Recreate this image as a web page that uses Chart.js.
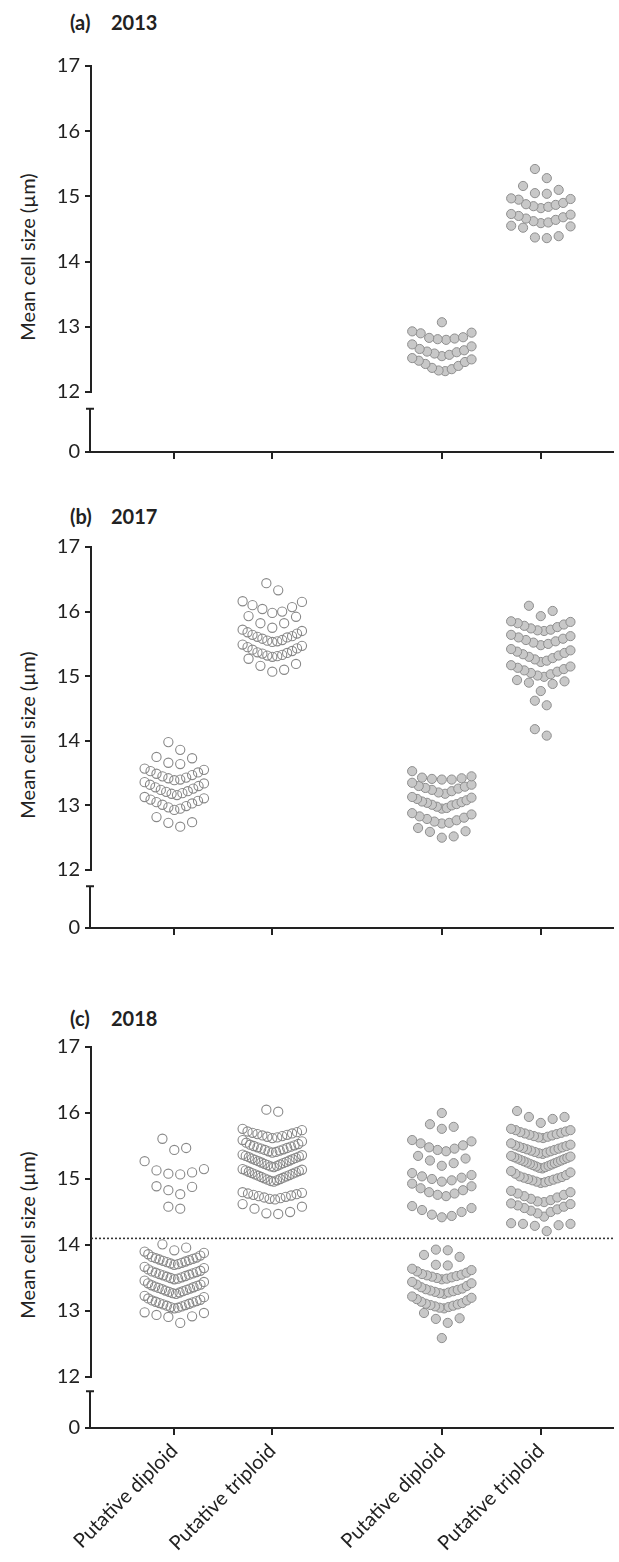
<!DOCTYPE html>
<html>
<head>
<meta charset="utf-8">
<script src="https://cdn.jsdelivr.net/npm/chart.js@4.4.1/dist/chart.umd.min.js"></script>
<style>
  html, body { margin: 0; padding: 0; background: #fff; }
  body { width: 619px; height: 1562px; position: relative; overflow: hidden; font-family: Lato, sans-serif; color: #222; }
  .panel { position: absolute; left: 0; width: 619px; }
  .ptitle { position: absolute; font-weight: bold; font-size: 20px; line-height: 24px; white-space: nowrap; }
  .ytitle { position: absolute; left: 27px; font-size: 20px; white-space: nowrap; transform: translate(-50%, -50%) rotate(-90deg); }
</style>
</head>
<body>

<div class="ptitle" style="left:70px; top:10px;">(a)</div>
<div class="ptitle" style="left:111px; top:10px;">2013</div>
<div class="ytitle" style="top:257px;">Mean cell size (µm)</div>
<div class="panel" style="top:40px; height:430px;"><canvas id="panelA" width="619" height="430"></canvas></div>

<div class="ptitle" style="left:70px; top:504px;">(b)</div>
<div class="ptitle" style="left:111px; top:504px;">2017</div>
<div class="ytitle" style="top:735px;">Mean cell size (µm)</div>
<div class="panel" style="top:520px; height:430px;"><canvas id="panelB" width="619" height="430"></canvas></div>

<div class="ptitle" style="left:70px; top:1006px;">(c)</div>
<div class="ptitle" style="left:111px; top:1006px;">2018</div>
<div class="ytitle" style="top:1235px;">Mean cell size (µm)</div>
<div class="panel" style="top:1020px; height:542px;"><canvas id="panelC" width="619" height="542"></canvas></div>

<script>
// categories and axis ticks
const groupLabels = ['Putative diploid', 'Putative triploid', 'Putative diploid', 'Putative triploid'];
const yTicks = [12, 13, 14, 15, 16, 17];
const yLowTicks = [0];
const threshold2018 = 14.1;

// 2013 (filled only)
const filledDiploid2013 = [12.32, 12.33, 12.35, 12.37, 12.40, 12.43, 12.46, 12.48, 12.50, 12.52,
  12.55, 12.57, 12.59, 12.61, 12.62, 12.64, 12.66, 12.70, 12.73,
  12.80, 12.81, 12.82, 12.83, 12.84, 12.90, 12.91, 12.93, 13.07];
const filledTriploid2013 = [14.36, 14.37, 14.39, 14.52, 14.54, 14.55,
  14.59, 14.60, 14.62, 14.64, 14.66, 14.68, 14.70, 14.72, 14.73,
  14.82, 14.84, 14.85, 14.87, 14.88, 14.90, 14.95, 14.96, 14.97,
  15.04, 15.05, 15.10, 15.16, 15.28, 15.42];

// 2017
const openDiploid2017 = [12.67, 12.73, 12.74, 12.82,
  12.93, 12.95, 12.97, 12.99, 13.01, 13.03, 13.05, 13.07, 13.09, 13.11, 13.13,
  13.16, 13.18, 13.19, 13.21, 13.22, 13.24, 13.26, 13.28, 13.30, 13.32, 13.34, 13.36,
  13.39, 13.40, 13.42, 13.43, 13.45, 13.47, 13.49, 13.51, 13.53, 13.55, 13.57,
  13.64, 13.66, 13.73, 13.75, 13.86, 13.98];
const openTriploid2017 = [15.07, 15.10, 15.16, 15.19, 15.27,
  15.30, 15.31, 15.32, 15.33, 15.35, 15.36, 15.37, 15.39, 15.41, 15.43, 15.45, 15.47, 15.49,
  15.53, 15.54, 15.55, 15.56, 15.58, 15.60, 15.61, 15.62, 15.64, 15.66, 15.68, 15.70, 15.72,
  15.75, 15.82, 15.82, 15.92, 15.93,
  15.98, 16.00, 16.04, 16.07, 16.10, 16.15, 16.16, 16.33, 16.44];
const filledDiploid2017 = [12.50, 12.52, 12.59, 12.60, 12.65,
  12.72, 12.73, 12.75, 12.77, 12.79, 12.81, 12.83, 12.86, 12.88,
  12.95, 12.96, 12.98, 13.00, 13.01, 13.02, 13.04, 13.05, 13.06, 13.08, 13.10, 13.12, 13.13,
  13.18, 13.20, 13.22, 13.24, 13.26, 13.27, 13.29, 13.30, 13.32, 13.35,
  13.40, 13.40, 13.41, 13.42, 13.43, 13.45, 13.53];
const filledTriploid2017 = [14.08, 14.18, 14.55, 14.62,
  14.77, 14.88, 14.90, 14.92, 14.94,
  14.99, 15.01, 15.03, 15.05, 15.07, 15.09, 15.11, 15.13, 15.15, 15.17,
  15.22, 15.24, 15.26, 15.28, 15.30, 15.32, 15.34, 15.36, 15.38, 15.40, 15.42,
  15.48, 15.50, 15.52, 15.54, 15.56, 15.58, 15.60, 15.62, 15.64,
  15.70, 15.71, 15.72, 15.74, 15.76, 15.78, 15.80, 15.82, 15.84, 15.85,
  15.93, 16.01, 16.09];

// 2018
const openDiploid2018 = [12.82, 12.91, 12.92, 12.94, 12.97, 12.98,
  13.04, 13.05, 13.06, 13.07, 13.08, 13.09, 13.10, 13.11, 13.12, 13.13, 13.14, 13.15, 13.16, 13.17, 13.19, 13.21, 13.23,
  13.26, 13.27, 13.28, 13.29, 13.30, 13.31, 13.32, 13.33, 13.34, 13.35, 13.36, 13.37, 13.38, 13.39, 13.40, 13.42, 13.44, 13.46,
  13.48, 13.49, 13.50, 13.51, 13.52, 13.53, 13.54, 13.55, 13.56, 13.57, 13.58, 13.59, 13.60, 13.61, 13.63, 13.65, 13.67,
  13.70, 13.71, 13.72, 13.73, 13.74, 13.75, 13.76, 13.77, 13.78, 13.79, 13.80, 13.81, 13.82, 13.84, 13.86, 13.88, 13.90,
  13.92, 13.96, 14.01,
  14.55, 14.58, 14.77, 14.83, 14.88, 14.89, 15.07, 15.08, 15.10, 15.13, 15.15, 15.27, 15.44, 15.47, 15.61];
const openTriploid2018 = [14.47, 14.48, 14.50, 14.55, 14.58, 14.62,
  14.69, 14.70, 14.71, 14.72, 14.73, 14.74, 14.75, 14.76, 14.77, 14.78, 14.79, 14.80,
  14.96, 14.97, 14.98, 14.99, 15.00, 15.01, 15.02, 15.03, 15.04, 15.05, 15.06, 15.07, 15.08, 15.09, 15.10, 15.11, 15.12, 15.13, 15.14, 15.15,
  15.18, 15.19, 15.20, 15.21, 15.22, 15.23, 15.24, 15.25, 15.26, 15.27, 15.28, 15.29, 15.30, 15.31, 15.32, 15.33, 15.34, 15.35, 15.36, 15.37,
  15.40, 15.41, 15.42, 15.43, 15.44, 15.45, 15.46, 15.47, 15.48, 15.49, 15.50, 15.51, 15.52, 15.53, 15.55, 15.57, 15.59,
  15.62, 15.63, 15.64, 15.65, 15.66, 15.67, 15.68, 15.69, 15.70, 15.71, 15.72, 15.74, 15.76,
  16.02, 16.05];
const filledDiploid2018 = [12.59, 12.82, 12.88, 12.89, 12.97,
  13.04, 13.05, 13.06, 13.07, 13.08, 13.09, 13.10, 13.11, 13.12, 13.14, 13.16, 13.18, 13.20, 13.22,
  13.26, 13.27, 13.28, 13.29, 13.30, 13.31, 13.32, 13.33, 13.34, 13.36, 13.38, 13.40, 13.42, 13.44,
  13.48, 13.49, 13.50, 13.51, 13.52, 13.53, 13.54, 13.55, 13.56, 13.58, 13.60, 13.62, 13.64,
  13.69, 13.70, 13.82, 13.85, 13.92, 13.93,
  14.42, 14.44, 14.46, 14.50, 14.53, 14.56, 14.59,
  14.74, 14.76, 14.78, 14.80, 14.83, 14.86, 14.89, 14.93,
  14.96, 14.98, 15.00, 15.02, 15.04, 15.06, 15.09,
  15.20, 15.24, 15.28, 15.31, 15.35,
  15.42, 15.44, 15.46, 15.48, 15.51, 15.54, 15.57, 15.59,
  15.76, 15.79, 15.83, 16.00];
const filledTriploid2018 = [14.21, 14.29, 14.30, 14.32, 14.32, 14.33,
  14.43, 14.48, 14.50, 14.52, 14.54, 14.56, 14.58, 14.60, 14.62, 14.63,
  14.65, 14.66, 14.68, 14.70, 14.72, 14.74, 14.76, 14.78, 14.80, 14.82,
  14.94, 14.95, 14.96, 14.97, 14.98, 14.99, 15.00, 15.01, 15.02, 15.03, 15.04, 15.06, 15.08, 15.10, 15.12,
  15.16, 15.17, 15.18, 15.19, 15.20, 15.21, 15.22, 15.23, 15.24, 15.25, 15.26, 15.27, 15.28, 15.29, 15.30, 15.31, 15.32, 15.33, 15.34, 15.35,
  15.38, 15.39, 15.40, 15.41, 15.42, 15.43, 15.44, 15.45, 15.46, 15.47, 15.48, 15.49, 15.50, 15.51, 15.52, 15.54,
  15.62, 15.63, 15.64, 15.65, 15.66, 15.67, 15.68, 15.69, 15.70, 15.71, 15.72, 15.74, 15.74, 15.76,
  15.85, 15.91, 15.94, 15.94, 16.03];

// x position of each category on the linear x scale (gap between the two pairs)
const groupPos = [1, 2, 3.73, 4.74];
const xMin = 0.15, xMax = 5.48;
const axisLeft = 91;
const xPxPerUnit = (619 - axisLeft) / (xMax - xMin);

const ROW_STEP = 0.205;   // values closer than this share a row (Prism-style scatter)
const DOT_GAP = 12;       // px between neighbours in a sparse row
const ROW_HALF = 30;      // px, max half width of a row

Chart.defaults.font.family = 'Lato';
Chart.defaults.color = '#222';

// spread points of one column side by side, lowest in the middle -> chevrons
function swarm(values, center) {
    const sorted = [...values].sort((a, b) => a - b);
    const rows = [];
    let row = null;
    sorted.forEach(v => {
        if (!row || v - row[0] > ROW_STEP) { row = [v]; rows.push(row); }
        else row.push(v);
    });
    const pts = [];
    rows.forEach(r => {
        const n = r.length;
        const gap = n > 1 ? Math.min(DOT_GAP, 2 * ROW_HALF / (n - 1)) : 0;
        const slots = [];
        for (let k = 0; k < n; k++) slots.push((k - (n - 1) / 2) * gap);
        slots.sort((a, b) => Math.abs(a) - Math.abs(b) || b - a);
        r.forEach((v, i) => pts.push({ x: center + slots[i] / xPxPerUnit, y: v }));
    });
    return pts;
}

// lower part of the broken y axis (0 only), with a small cap at the break
const axisBreak = {
    id: 'axisBreak',
    afterDraw(chart) {
        const { ctx, chartArea } = chart;
        const low = chart.scales.y0;
        const x = chartArea.left - 1;
        const top = low.getPixelForValue(0.72);
        const bottom = low.getPixelForValue(0);
        ctx.save();
        ctx.strokeStyle = '#222';
        ctx.lineWidth = 2;
        ctx.beginPath();
        ctx.moveTo(x, top);
        ctx.lineTo(x, bottom);
        ctx.moveTo(x - 4, top);
        ctx.lineTo(x + 4, top);
        ctx.stroke();
        ctx.restore();
    }
};

function makePanel(canvasId, opts) {
    const datasets = [];
    opts.groups.forEach((vals, g) => {
        if (!vals.length) return;
        const open = g < 2;
        datasets.push({
            type: 'scatter',
            data: swarm(vals, groupPos[g]),
            pointRadius: 4.6,
            pointBorderWidth: open ? 1.1 : 1,
            pointBorderColor: open ? '#888' : '#8e8e8e',
            pointBackgroundColor: open ? 'rgba(255,255,255,0)' : '#c8c8c8'
        });
    });
    if (opts.threshold !== undefined) {
        datasets.unshift({
            type: 'line',
            data: [{ x: xMin, y: opts.threshold }, { x: xMax, y: opts.threshold }],
            borderColor: '#333',
            borderWidth: 1.6,
            borderDash: [2, 2],
            pointRadius: 0
        });
    }

    const tickGrid = { drawOnChartArea: false, drawTicks: true, tickLength: 6, color: '#222', lineWidth: 2 };
    const tickFont = { family: 'Lato', size: 20 };

    new Chart(document.getElementById(canvasId), {
        type: 'scatter',
        data: { datasets },
        options: {
            responsive: false,
            animation: false,
            events: [],
            layout: { padding: { top: opts.padTop, bottom: opts.padBottom, left: 0, right: 0 } },
            plugins: { legend: { display: false }, tooltip: { enabled: false } },
            scales: {
                x: {
                    type: 'linear',
                    min: xMin,
                    max: xMax,
                    afterBuildTicks: s => { s.ticks = groupPos.map(v => ({ value: v })); },
                    afterFit: s => { s.height = opts.xAxisH; },
                    grid: { drawOnChartArea: false, drawTicks: true, tickLength: 7, color: '#222', lineWidth: 2 },
                    border: { display: true, color: '#222', width: 2 },
                    ticks: {
                        display: opts.labels,
                        autoSkip: false,
                        minRotation: 45,
                        maxRotation: 45,
                        padding: 4,
                        color: '#222',
                        font: { family: 'Lato', size: 20 },
                        callback: (v, i) => groupLabels[i]
                    }
                },
                // left boxes are placed in reverse weight order: y (weight 1) ends on top
                y: {
                    type: 'linear',
                    position: 'left',
                    stack: 'left',
                    stackWeight: opts.upper,
                    weight: 1,
                    min: 12,
                    max: 17,
                    afterBuildTicks: s => { s.ticks = yTicks.map(v => ({ value: v })); },
                    afterFit: s => { s.width = axisLeft; },
                    grid: tickGrid,
                    border: { display: true, color: '#222', width: 2 },
                    ticks: { color: '#222', font: tickFont, padding: 5 }
                },
                y0: {
                    type: 'linear',
                    position: 'left',
                    stack: 'left',
                    stackWeight: opts.lower,
                    weight: 0,
                    min: 0,
                    max: 1,
                    afterBuildTicks: s => { s.ticks = yLowTicks.map(v => ({ value: v })); },
                    afterFit: s => { s.width = axisLeft; },
                    grid: tickGrid,
                    border: { display: false },
                    ticks: { color: '#222', font: tickFont, padding: 5 }
                }
            }
        },
        plugins: [axisBreak]
    });
}

makePanel('panelA', {
    padTop: 26, padBottom: 8, upper: 326, lower: 60, xAxisH: 10, labels: false,
    groups: [[], [], filledDiploid2013, filledTriploid2013]
});
makePanel('panelB', {
    padTop: 27, padBottom: 12, upper: 323, lower: 58, xAxisH: 10, labels: false,
    groups: [openDiploid2017, openTriploid2017, filledDiploid2017, filledTriploid2017]
});
makePanel('panelC', {
    padTop: 27, padBottom: 4, upper: 330, lower: 51, xAxisH: 130, labels: true,
    groups: [openDiploid2018, openTriploid2018, filledDiploid2018, filledTriploid2018],
    threshold: threshold2018
});
</script>
</body>
</html>
